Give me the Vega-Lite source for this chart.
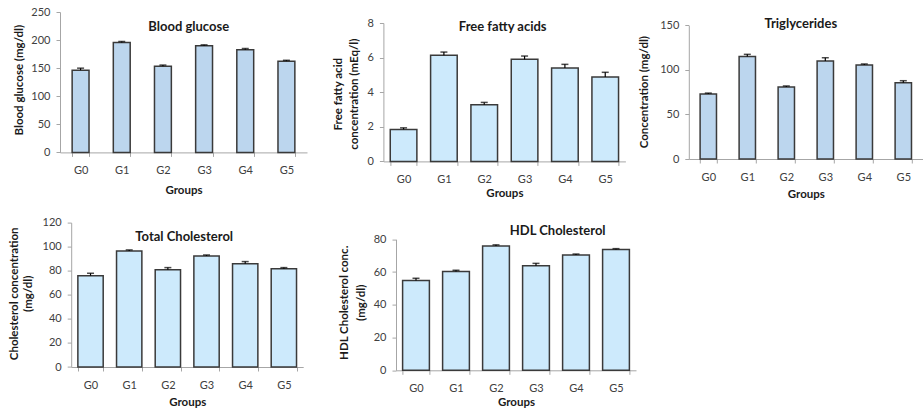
{
  "$schema": "https://vega.github.io/schema/vega-lite/v6.json",
  "background": "white",
  "padding": {"left": 8, "top": 6, "right": 0, "bottom": 0},
  "config": {
    "font": "Lato",
    "view": {"stroke": null},
    "axis": {"labelFont": "Lato", "labelFontSize": 11, "labelColor": "#404040", "titleFont": "Lato", "titleFontSize": 11.5, "titleFontWeight": "bold", "titleColor": "#1a1a1a", "domainColor": "#a6a6a6", "tickColor": "#a6a6a6", "tickSize": 4, "grid": false},
    "axisX": {"labelAngle": 0, "tickBand": "extent", "labelPadding": 8},
    "axisY": {"labelPadding": 6},
    "title": {"font": "Lato", "fontSize": 13, "fontWeight": "bold", "color": "#1a1a1a", "frame": "group", "anchor": "middle"}
  },
  "bounds": "flush",
  "align": "each",
  "columns": 3,
  "spacing": {"row": 60.6, "column": 76.4},
  "concat": [
    {
      "width": 247, "height": 140.4,
      "title": {"text": "Blood glucose", "offset": -27.7, "dx": 5.2},
      "data": {"values": [
        {"g": "G0", "v": 146.5, "top": 150},
        {"g": "G1", "v": 195.5, "top": 197.5},
        {"g": "G2", "v": 153.5, "top": 155.5},
        {"g": "G3", "v": 190, "top": 191.5},
        {"g": "G4", "v": 183, "top": 185},
        {"g": "G5", "v": 162.5, "top": 164}
      ]},
      "encoding": {
        "x": {"field": "g", "type": "nominal", "title": "Groups", "scale": {"paddingInner": 0.59, "paddingOuter": 0.295}, "axis": {"titlePadding": 9}},
        "y": {"field": "v", "type": "quantitative", "title": "Blood glucose (mg/dl)", "scale": {"domain": [0, 250], "nice": false}, "axis": {"values": [0, 50, 100, 150, 200, 250], "titleX": -35.3, "titleY": 67.7}}
      },
      "layer": [
        {"mark": {"type": "bar", "fill": "#bcd6ee", "stroke": "#3a3a3a", "strokeWidth": 1.5}},
        {"mark": {"type": "rule", "color": "#000000", "strokeWidth": 1.2}, "encoding": {"y2": {"field": "top"}}},
        {"mark": {"type": "tick", "color": "#000000", "thickness": 1.5, "size": 7}, "encoding": {"y": {"field": "top", "type": "quantitative", "title": "Blood glucose (mg/dl)"}}}
      ]
    },
    {
      "width": 228.6, "height": 149.4,
      "title": {"text": "Free fatty acids", "offset": -21.7, "dx": 5},
      "data": {"values": [
        {"g": "G0", "v": 1.85, "top": 1.94},
        {"g": "G1", "v": 6.13, "top": 6.32},
        {"g": "G2", "v": 3.28, "top": 3.41},
        {"g": "G3", "v": 5.9, "top": 6.09},
        {"g": "G4", "v": 5.4, "top": 5.61},
        {"g": "G5", "v": 4.88, "top": 5.15}
      ]},
      "encoding": {
        "x": {"field": "g", "type": "nominal", "title": "Groups", "scale": {"range": [0, 242], "paddingInner": 0.34, "paddingOuter": 0.17}, "axis": {"titlePadding": 3.3}},
        "y": {"field": "v", "type": "quantitative", "title": ["Free fatty acid", "concentration (mEq/l)"], "scale": {"domain": [0, 8], "nice": false, "range": [149.4, 11]}, "axis": {"values": [0, 2, 4, 6, 8], "titleX": -39.5, "titleY": 81.7, "titleLineHeight": 16}}
      },
      "layer": [
        {"mark": {"type": "bar", "fill": "#cdeafc", "stroke": "#3a3a3a", "strokeWidth": 1.5}},
        {"mark": {"type": "rule", "color": "#000000", "strokeWidth": 1.2}, "encoding": {"y2": {"field": "top"}}},
        {"mark": {"type": "tick", "color": "#000000", "thickness": 1.5, "size": 7}, "encoding": {"y": {"field": "top", "type": "quantitative", "title": ["Free fatty acid", "concentration (mEq/l)"]}}}
      ]
    },
    {
      "width": 234, "height": 147,
      "title": {"text": "Triglycerides", "offset": -19.4, "dx": -5},
      "data": {"values": [
        {"g": "G0", "v": 72.9, "top": 74},
        {"g": "G1", "v": 115.2, "top": 117.5},
        {"g": "G2", "v": 80.8, "top": 82},
        {"g": "G3", "v": 110, "top": 113.7},
        {"g": "G4", "v": 105.5, "top": 106.7},
        {"g": "G5", "v": 85.7, "top": 87.9}
      ]},
      "encoding": {
        "x": {"field": "g", "type": "nominal", "title": "Groups", "scale": {"paddingInner": 0.58, "paddingOuter": 0.29}, "axis": {"titlePadding": 6.4}},
        "y": {"field": "v", "type": "quantitative", "title": "Concentration (mg/dl)", "scale": {"domain": [0, 150], "nice": false, "range": [147, 13.4]}, "axis": {"values": [0, 50, 100, 150], "titleX": -39.7, "titleY": 79.7}}
      },
      "layer": [
        {"mark": {"type": "bar", "fill": "#bcd6ee", "stroke": "#3a3a3a", "strokeWidth": 1.5}},
        {"mark": {"type": "rule", "color": "#000000", "strokeWidth": 1.2}, "encoding": {"y2": {"field": "top"}}},
        {"mark": {"type": "tick", "color": "#000000", "thickness": 1.5, "size": 7}, "encoding": {"y": {"field": "top", "type": "quantitative", "title": "Concentration (mg/dl)"}}}
      ]
    },
    {
      "width": 243.2, "height": 144.4,
      "title": {"text": "Total Cholesterol", "offset": -27.4, "dx": 2.6},
      "data": {"values": [
        {"g": "G0", "v": 75.9, "top": 77.9},
        {"g": "G1", "v": 96.4, "top": 97.3},
        {"g": "G2", "v": 80.9, "top": 82.6},
        {"g": "G3", "v": 92.3, "top": 93.1},
        {"g": "G4", "v": 85.9, "top": 87.6},
        {"g": "G5", "v": 81.7, "top": 82.6}
      ]},
      "encoding": {
        "x": {"field": "g", "type": "nominal", "title": "Groups", "scale": {"range": [11.2, 243.2], "paddingInner": 0.345, "paddingOuter": 0.1725}, "axis": {"titlePadding": 6}},
        "y": {"field": "v", "type": "quantitative", "title": ["Cholesterol concentration", "(mg/dl)"], "scale": {"domain": [0, 120], "nice": false}, "axis": {"offset": -11.2, "values": [0, 20, 40, 60, 80, 100, 120], "titleX": -51.5, "titleY": 70.7, "titleLineHeight": 14}}
      },
      "layer": [
        {"mark": {"type": "bar", "fill": "#cdeafc", "stroke": "#3a3a3a", "strokeWidth": 1.5}},
        {"mark": {"type": "rule", "color": "#000000", "strokeWidth": 1.2}, "encoding": {"y2": {"field": "top"}}},
        {"mark": {"type": "tick", "color": "#000000", "thickness": 1.5, "size": 7}, "encoding": {"y": {"field": "top", "type": "quantitative", "title": ["Cholesterol concentration", "(mg/dl)"]}}}
      ]
    },
    {
      "width": 228.6, "height": 147.7,
      "title": {"text": "HDL Cholesterol", "offset": -15.4, "dx": 60},
      "data": {"values": [
        {"g": "G0", "v": 54.8, "top": 56.2},
        {"g": "G1", "v": 60.3, "top": 61.1},
        {"g": "G2", "v": 75.9, "top": 76.6},
        {"g": "G3", "v": 63.9, "top": 65.3},
        {"g": "G4", "v": 70.4, "top": 71},
        {"g": "G5", "v": 73.7, "top": 74.3}
      ]},
      "encoding": {
        "x": {"field": "g", "type": "nominal", "title": "Groups", "scale": {"range": [12.6, 252.6], "paddingInner": 0.33, "paddingOuter": 0.165}, "axis": {"titlePadding": 3.4}},
        "y": {"field": "v", "type": "quantitative", "title": ["HDL Cholesterol conc.", "(mg/dl)"], "scale": {"domain": [0, 80], "nice": false, "range": [147.7, 16.7]}, "axis": {"offset": -12.6, "values": [0, 20, 40, 60, 80], "titleX": -46.3, "titleY": 79.7, "titleLineHeight": 17}}
      },
      "layer": [
        {"mark": {"type": "bar", "fill": "#cdeafc", "stroke": "#3a3a3a", "strokeWidth": 1.5}},
        {"mark": {"type": "rule", "color": "#000000", "strokeWidth": 1.2}, "encoding": {"y2": {"field": "top"}}},
        {"mark": {"type": "tick", "color": "#000000", "thickness": 1.5, "size": 7}, "encoding": {"y": {"field": "top", "type": "quantitative", "title": ["HDL Cholesterol conc.", "(mg/dl)"]}}}
      ]
    }
  ]
}
